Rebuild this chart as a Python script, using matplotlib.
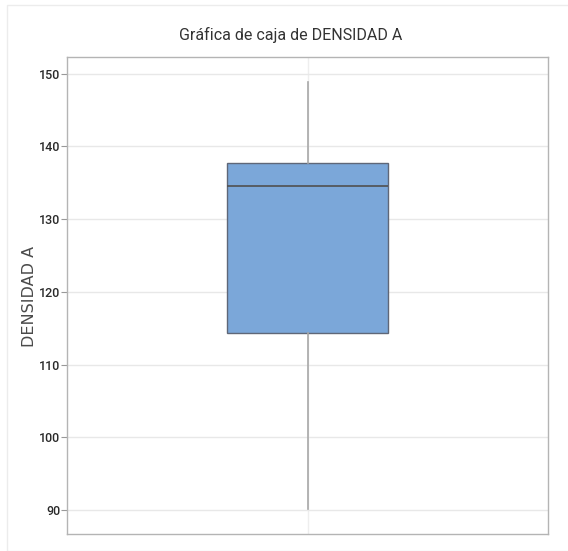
"""Boxplot of DENSIDAD A, Minitab-style look."""

import matplotlib
matplotlib.use("Agg")
import matplotlib.pyplot as plt
from matplotlib.patches import Rectangle

# summary statistics
q1 = 114.4
median = 134.6
q3 = 137.7
whisker_low = 90.2
whisker_high = 148.8

yticks = [90, 100, 110, 120, 130, 140, 150]
title = "Gráfica de caja de DENSIDAD A"
ylabel = "DENSIDAD A"

W, H = 568, 551
fig = plt.figure(figsize=(W / 100, H / 100), dpi=100)

# axes box in pixels: left 67, right 548, top 57, bottom 534
ax = fig.add_axes([67 / W, 1 - 534 / H, (548 - 67) / W, (534 - 57) / H])

stats = [{
    "med": median, "q1": q1, "q3": q3,
    "whislo": whisker_low, "whishi": whisker_high, "fliers": [],
}]
ax.bxp(
    stats, positions=[1], widths=0.333, patch_artist=True, showcaps=False,
    boxprops=dict(facecolor="#7ba7d9", edgecolor="#5f6778", linewidth=1.0),
    medianprops=dict(color="#505050", linewidth=1.2),
    whiskerprops=dict(color="#a8a8a8", linewidth=1.2),
    zorder=3,
)

ax.set_xlim(0.5, 1.5)
ax.set_ylim(86.7, 152.3)
ax.set_yticks(yticks)
ax.set_yticklabels([str(t) for t in yticks], fontfamily="Roboto",
                   fontsize=9, fontweight="medium", color="#2a2a2a")
ax.set_xticks([])
ax.axvline(1, color="#eeeeee", lw=1.0, zorder=0)
ax.grid(True, axis="y", color="#e8e8e8", linewidth=1.0, zorder=0)
ax.set_axisbelow(True)
ax.tick_params(axis="y", length=4, width=0.8, color="#999999", pad=1)
for s in ax.spines.values():
    s.set_color("#b4b4b4")
    s.set_linewidth(1.0)

fig.text(291 / W, 1 - 35 / H, title, ha="center", va="center",
         fontsize=11.5, fontfamily="Roboto", color="#333333")
fig.text(29 / W, 1 - 296 / H, ylabel, ha="center", va="center", rotation=90,
         fontsize=11.5, fontfamily="DejaVu Sans", color="#4a4a4a")

# thin light frame around the whole graph region
fig.patches.append(Rectangle((7 / W, 0), 1, 1 - 5 / H, transform=fig.transFigure,
                             fill=False, edgecolor="#ececec", linewidth=1.0))

fig.savefig("out.png", dpi=100)
